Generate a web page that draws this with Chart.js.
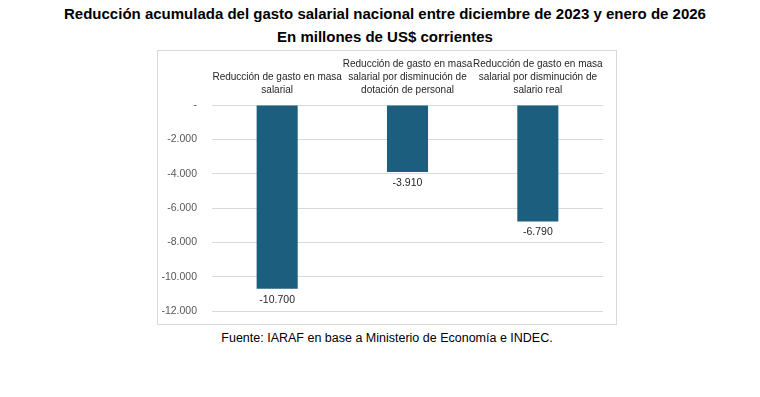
<!DOCTYPE html>
<html>
<head>
<meta charset="utf-8">
<style>
  body {
    margin: 0;
    background: #ffffff;
    width: 760px;
    height: 397px;
    position: relative;
    overflow: hidden;
    font-family: "Liberation Sans", sans-serif;
  }
  .title {
    position: absolute;
    left: 5px;
    width: 760px;
    text-align: center;
    font-weight: bold;
    font-size: 15px;
    line-height: 18px;
    color: #000;
    white-space: nowrap;
  }
  .t1 { top: 5px; }
  .t2 { top: 28px; }
  .box {
    position: absolute;
    left: 157px;
    top: 50px;
    width: 458px;
    height: 273px;
    border: 1px solid #d9d9d9;
    background: #fff;
  }
  .box canvas { display: block; }
  .source {
    position: absolute;
    left: 7px;
    width: 760px;
    top: 330px;
    text-align: center;
    font-size: 12.5px;
    line-height: 16px;
    color: #000;
    white-space: nowrap;
  }
</style>
</head>
<body>
  <div class="title t1">Reducción acumulada del gasto salarial nacional entre diciembre de 2023 y enero de 2026</div>
  <div class="title t2">En millones de US$ corrientes</div>
  <div class="box"><canvas id="chart" width="458" height="273"></canvas></div>
  <div class="source">Fuente: IARAF en base a Ministerio de Economía e INDEC.</div>

  <script src="https://cdn.jsdelivr.net/npm/chart.js"></script>
  <script>
    const categories = [
      ["Reducción de gasto en masa", "salarial"],
      ["Reducción de gasto en masa", "salarial por disminución de", "dotación de personal"],
      ["Reducción de gasto en masa", "salarial por disminución de", "salario real"],
    ];
    const values = [-10700, -3910, -6790];
    const yTicks = [0, -2000, -4000, -6000, -8000, -10000, -12000];

    const fmt = (v) => (v === 0 ? "-" : v.toLocaleString("de-DE"));
    const family = "'Liberation Sans', sans-serif";

    const valueLabels = {
      id: "valueLabels",
      afterDatasetsDraw(chart) {
        const ctx = chart.ctx;
        const meta = chart.getDatasetMeta(0);
        ctx.save();
        ctx.font = "10.5px " + family;
        ctx.fillStyle = "#262626";
        ctx.textAlign = "center";
        ctx.textBaseline = "middle";
        meta.data.forEach((bar, i) => {
          ctx.fillText(fmt(values[i]), bar.x, bar.y + 11);
        });
        ctx.restore();
      },
    };

    new Chart(document.getElementById("chart").getContext("2d"), {
      type: "bar",
      data: {
        labels: categories,
        datasets: [
          {
            data: values,
            backgroundColor: "#1c5e7e",
            categoryPercentage: 1,
            barPercentage: 0.315,
          },
        ],
      },
      options: {
        responsive: false,
        animation: false,
        layout: { padding: { left: 0, right: 13, top: 0, bottom: 13 } },
        plugins: {
          legend: { display: false },
          tooltip: { enabled: false },
        },
        scales: {
          x: {
            position: "top",
            grid: { display: false, drawTicks: false },
            border: { display: false },
            ticks: {
              color: "#262626",
              font: { family: family, size: 10, lineHeight: 1.3 },
              padding: 8,
              maxRotation: 0,
              autoSkip: false,
            },
            afterFit(scale) {
              scale.height = 54;
            },
          },
          y: {
            min: -12000,
            max: 0,
            afterBuildTicks(scale) {
              scale.ticks = yTicks.map((v) => ({ value: v }));
            },
            grid: { color: "#d9d9d9", drawTicks: false },
            border: { display: false },
            ticks: {
              color: "#595959",
              font: { family: family, size: 10.5 },
              padding: 15,
              callback: (v) => fmt(v),
            },
            afterFit(scale) {
              scale.width = 54;
              scale.paddingTop = 0;
              scale.paddingBottom = 0;
            },
          },
        },
      },
      plugins: [valueLabels],
    });
  </script>
</body>
</html>
